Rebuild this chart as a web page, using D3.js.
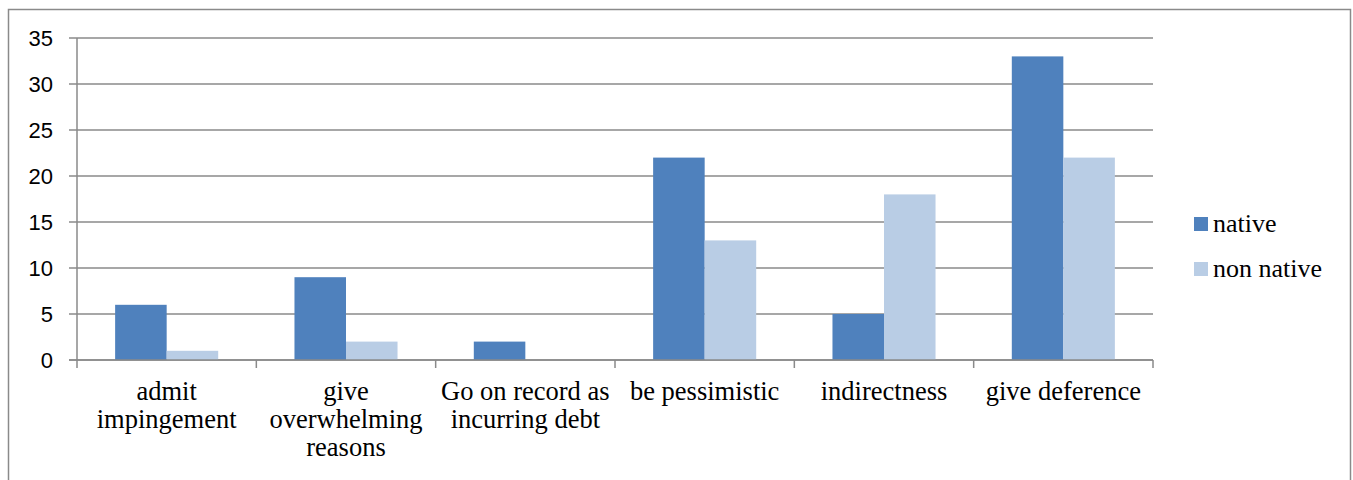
<!DOCTYPE html>
<html>
<head>
<meta charset="utf-8">
<script src="https://cdn.jsdelivr.net/npm/d3@7"></script>
<style>
  body { margin: 0; background: #fff; }
  svg { display: block; }
</style>
</head>
<body>
<div id="chart"></div>
<script>
// data
const categories = ["admit impingement", "give overwhelming reasons", "Go on record as incurring debt",
                    "be pessimistic", "indirectness", "give deference"]
const seriesNames = ["native", "non native"]
const nativeValues = [6, 9, 2, 22, 5, 33]
const nonNativeValues = [1, 2, 0, 13, 18, 22]
const yTicks = [0, 5, 10, 15, 20, 25, 30, 35]

const colors = ["#4F81BD", "#B9CDE5"]
const width = 1353, height = 480
const margin = {left: 77, right: 200, top: 38, bottom: 120}
const serif = "'Liberation Serif', 'Times New Roman', serif"

const svg = d3.select("#chart").append("svg")
  .attr("width", width)
  .attr("height", height)

// outer frame
svg.append("rect")
  .attr("x", 8.5).attr("y", 9.5)
  .attr("width", 1342).attr("height", 490)
  .attr("fill", "none")
  .attr("stroke", "#8a8a8a")
  .attr("stroke-width", 1.5)

const x0 = d3.scaleBand()
  .domain(categories)
  .range([margin.left, 1153])

const x1 = d3.scaleBand()
  .domain(seriesNames)
  .range([0, x0.bandwidth()])
  .paddingInner(0)
  .paddingOuter(0.74)

const y = d3.scaleLinear()
  .domain([0, 35])
  .range([360, margin.top])

// gridlines
svg.append("g")
  .selectAll("line")
  .data(yTicks)
  .join("line")
  .attr("x1", 69).attr("x2", 1153)
  .attr("y1", d => y(d)).attr("y2", d => y(d))
  .attr("stroke", "#8a8a8a")
  .attr("stroke-width", 1.5)

// y labels
svg.append("g")
  .selectAll("text")
  .data(yTicks)
  .join("text")
  .attr("x", 53)
  .attr("y", d => y(d))
  .attr("dy", "0.36em")
  .attr("text-anchor", "end")
  .style("font-family", "'Liberation Sans', Arial, sans-serif")
  .style("font-size", "22px")
  .attr("fill", "#000")
  .text(d => d)

// bars
const rows = categories.map((c, i) => ({cat: c, vals: [nativeValues[i], nonNativeValues[i]]}))
svg.append("g")
  .selectAll("g")
  .data(rows)
  .join("g")
  .attr("transform", d => `translate(${x0(d.cat)},0)`)
  .selectAll("rect")
  .data(d => d.vals.map((v, j) => ({name: seriesNames[j], v: v, j: j})))
  .join("rect")
  .attr("x", d => x1(d.name))
  .attr("y", d => y(d.v))
  .attr("width", x1.bandwidth())
  .attr("height", d => y(0) - y(d.v))
  .attr("fill", d => colors[d.j])

// axis lines and category ticks
svg.append("line")
  .attr("x1", margin.left).attr("x2", margin.left)
  .attr("y1", margin.top).attr("y2", 360)
  .attr("stroke", "#8a8a8a").attr("stroke-width", 1.5)
svg.append("line")
  .attr("x1", 69).attr("x2", 1153)
  .attr("y1", 360).attr("y2", 360)
  .attr("stroke", "#8a8a8a").attr("stroke-width", 1.5)
const catEdges = categories.map(c => x0(c)).concat([x0.range()[1]])
svg.append("g")
  .selectAll("line")
  .data(catEdges)
  .join("line")
  .attr("x1", d => d).attr("x2", d => d)
  .attr("y1", 360).attr("y2", 368)
  .attr("stroke", "#8a8a8a").attr("stroke-width", 1.5)

// category labels, wrapped to the band width
const labels = svg.append("g")
  .selectAll("text")
  .data(categories)
  .join("text")
  .attr("x", d => x0(d) + x0.bandwidth() / 2)
  .attr("y", 400)
  .attr("text-anchor", "middle")
  .style("font-family", serif)
  .style("font-size", "26.5px")
  .attr("fill", "#000")

labels.each(function(d) {
  const text = d3.select(this)
  const words = d.split(" ")
  let line = []
  let tspan = text.append("tspan").attr("x", text.attr("x")).attr("dy", 0)
  words.forEach(w => {
    line.push(w)
    tspan.text(line.join(" "))
    if (tspan.node().getComputedTextLength() > 176 && line.length > 1) {
      line.pop()
      tspan.text(line.join(" "))
      line = [w]
      tspan = text.append("tspan").attr("x", text.attr("x")).attr("dy", 28).text(w)
    }
  })
})

// legend
const legend = svg.append("g")
  .selectAll("g")
  .data(seriesNames)
  .join("g")
  .attr("transform", (d, i) => `translate(1194,${217 + i * 45})`)
legend.append("rect")
  .attr("width", 14).attr("height", 14)
  .attr("fill", (d, i) => colors[i])
legend.append("text")
  .attr("x", 19)
  .attr("y", 15)
  .style("font-family", serif)
  .style("font-size", "26px")
  .attr("fill", "#000")
  .text(d => d)
</script>
</body>
</html>
